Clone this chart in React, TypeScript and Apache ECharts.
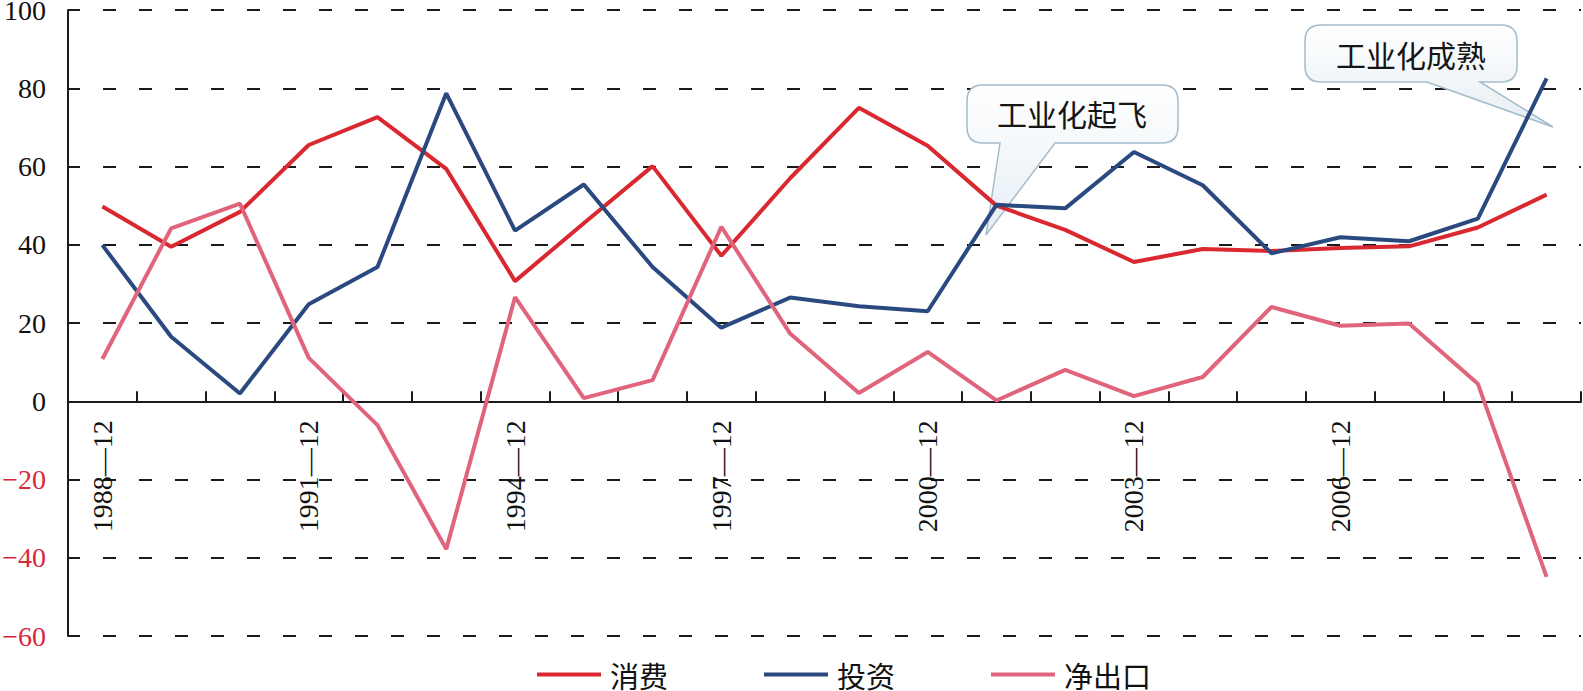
import React, { useEffect, useRef } from 'react';
import * as echarts from 'echarts';

const categories = [
  '1988—12', '1989—12', '1990—12', '1991—12', '1992—12', '1993—12', '1994—12', '1995—12',
  '1996—12', '1997—12', '1998—12', '1999—12', '2000—12', '2001—12', '2002—12', '2003—12',
  '2004—12', '2005—12', '2006—12', '2007—12', '2008—12', '2009—12',
];
const labelledCategories = ['1988—12', '1991—12', '1994—12', '1997—12', '2000—12', '2003—12', '2006—12'];
const consumption = [49.8, 39.5, 48.4, 65.5, 72.6, 59.4, 30.7, 45.5, 60.1, 37.2, 57.0, 75.0, 65.3, 50.0, 43.8, 35.6, 38.9, 38.4, 39.2, 39.6, 44.4, 52.8];
const investment = [39.9, 16.5, 2.0, 24.8, 34.3, 78.7, 43.6, 55.4, 34.3, 18.8, 26.5, 24.3, 23.0, 50.2, 49.3, 63.7, 55.2, 37.8, 41.9, 40.9, 46.7, 82.5];
const netExport = [10.8, 44.2, 50.5, 11.1, -6.1, -37.8, 26.6, 0.8, 5.4, 44.6, 17.3, 2.1, 12.6, 0.2, 8.0, 1.3, 6.2, 24.1, 19.3, 19.9, 4.5, -44.9];
const seriesNames = ['消费', '投资', '净出口'];
const seriesColors = ['#d9282f', '#2a4a7f', '#e0647c'];
const annotations = ['工业化起飞', '工业化成熟'];
const Y_MIN = -60;
const Y_MAX = 100;

function calloutPath(x0: number, y0: number, x1: number, y1: number, r: number, b1: number, b2: number, tx: number, ty: number) {
  return [
    `M${x0 + r},${y0}`,
    `L${x1 - r},${y0}`,
    `Q${x1},${y0} ${x1},${y0 + r}`,
    `L${x1},${y1 - r}`,
    `Q${x1},${y1} ${x1 - r},${y1}`,
    `L${b2},${y1}`,
    `L${tx},${ty}`,
    `L${b1},${y1}`,
    `L${x0 + r},${y1}`,
    `Q${x0},${y1} ${x0},${y1 - r}`,
    `L${x0},${y0 + r}`,
    `Q${x0},${y0} ${x0 + r},${y0}`,
    'Z',
  ].join(' ');
}

echarts.graphic.registerShape('calloutA', echarts.graphic.extendPath(calloutPath(967, 85, 1178, 143, 16, 1000, 1055, 986, 235), {}));
echarts.graphic.registerShape('calloutB', echarts.graphic.extendPath(calloutPath(1305, 25, 1517, 82, 16, 1427, 1480, 1553, 127), {}));

export default function App() {
  const ref = useRef<HTMLDivElement>(null);
  useEffect(() => {
    document.body.style.margin = '0';
    if (!ref.current) return;
    const chart = echarts.init(ref.current, null, { renderer: 'svg' });
    const serif = '"Liberation Serif", "Times New Roman", "Noto Sans CJK SC", serif';
    const cjk = '"Noto Sans CJK SC", "Liberation Serif", serif';
    const gridTop = 10;
    const gridBottom = 55;
    const plotH = 691 - gridTop - gridBottom;
    const zeroFromBottom = plotH * (0 - Y_MIN) / (Y_MAX - Y_MIN);
    const fillGrad = () => new echarts.graphic.LinearGradient(0, 0, 0, 1, [
      { offset: 0, color: '#ffffff' },
      { offset: 1, color: '#e6eef3' },
    ]);
    const bubbleStyle = () => ({ fill: fillGrad(), stroke: '#a3bccb', lineWidth: 1.5 });
    const textStyle = (text: string) => ({
      text, fill: '#151515', font: `30px ${cjk}`,
      align: 'center', verticalAlign: 'middle', textAlign: 'center', textVerticalAlign: 'middle',
    });
    const data = [consumption, investment, netExport];
    chart.setOption({
      animation: false,
      backgroundColor: '#ffffff',
      grid: { left: 68, right: 2, top: gridTop, bottom: gridBottom, containLabel: false, outerBoundsMode: 'none' },
      legend: {
        data: seriesNames,
        left: 532,
        top: 655,
        icon: 'rect',
        itemWidth: 64,
        itemHeight: 4,
        itemGap: 96,
        textStyle: { fontFamily: cjk, fontSize: 29, color: '#111', padding: [0, 0, 0, 4] },
      },
      xAxis: {
        type: 'category',
        data: categories,
        boundaryGap: true,
        position: 'bottom',
        offset: -zeroFromBottom,
        axisLine: { onZero: false, lineStyle: { color: '#1a1a1a', width: 2 } },
        axisTick: { show: true, inside: true, length: 10, interval: 0, lineStyle: { color: '#1a1a1a', width: 2 } },
        axisLabel: {
          interval: (_i: number, v: string) => labelledCategories.includes(v),
          rotate: 90, margin: 19, color: '#111',
          fontFamily: serif, fontSize: 28,
        },
        splitLine: { show: false },
      },
      yAxis: {
        type: 'value',
        min: Y_MIN, max: Y_MAX, interval: 20,
        axisLine: { show: true, lineStyle: { color: '#1a1a1a', width: 2 } },
        axisTick: { show: true, inside: true, length: 12, lineStyle: { color: '#1a1a1a', width: 2 } },
        axisLabel: {
          margin: 22, fontFamily: serif, fontSize: 28,
          formatter: (v: number) => (v < 0 ? '−' + Math.abs(v) : String(v)),
          color: (v: any) => (Number(v) < 0 ? '#d9283a' : '#111'),
        },
        splitLine: { show: true, lineStyle: { color: '#1a1a1a', width: 2, type: [13, 23], dashOffset: 1 } },
      },
      series: seriesNames.map((name, i) => ({
        name, type: 'line', data: data[i], symbol: 'none', z: 3,
        lineStyle: { color: seriesColors[i], width: 4 },
        itemStyle: { color: seriesColors[i] },
      })),
      graphic: [
        { type: 'calloutA', x: 0, y: 0, z: 1, style: bubbleStyle() },
        { type: 'text', x: 1072, y: 113, z: 1, style: textStyle(annotations[0]) },
        { type: 'calloutB', x: 0, y: 0, z: 1, style: bubbleStyle() },
        { type: 'text', x: 1411, y: 54, z: 1, style: textStyle(annotations[1]) },
      ],
    });
    return () => chart.dispose();
  }, []);
  return <div ref={ref} style={{ width: 1583, height: 691 }} />;
}
